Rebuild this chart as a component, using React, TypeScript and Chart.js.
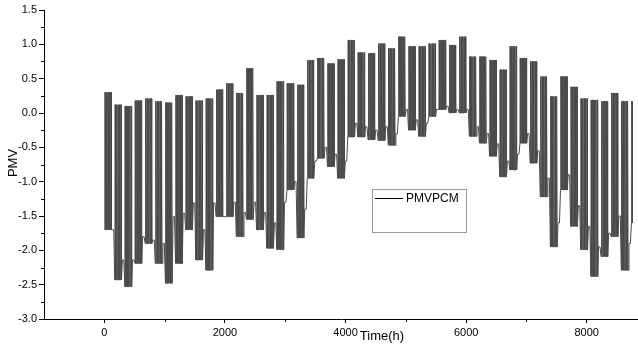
import { useEffect, useRef } from "react";
import { Chart, registerables } from "chart.js";
Chart.register(...registerables);

// Weekly envelope of the hourly PMV series (week 0 starts at hour 0)
const weekHigh = [
  0.3, 0.12, 0.1, 0.18, 0.21, 0.17, 0.15, 0.26, 0.24, 0.18,
  0.21, 0.34, 0.43, 0.29, 0.65, 0.26, 0.26, 0.46, 0.43, 0.41,
  0.77, 0.8, 0.72, 0.78, 1.06, 0.88, 0.87, 1.01, 0.94, 1.11,
  0.97, 0.97, 1.01, 1.06, 0.99, 1.11, 0.82, 0.82, 0.77, 0.63,
  0.97, 0.8, 0.75, 0.53, 0.24, 0.53, 0.38, 0.21, 0.19, 0.17,
  0.29, 0.17, 0.17,
];
// nightly minimum on working days
const weekLow = [
  -1.7, -2.43, -2.53, -2.19, -1.9, -2.19, -2.48, -2.19, -1.7, -2.14,
  -2.29, -1.51, -1.51, -1.8, -1.55, -1.7, -1.97, -1.99, -1.12, -1.82,
  -0.95, -0.66, -0.78, -0.95, -0.35, -0.35, -0.39, -0.4, -0.47, -0.05,
  -0.25, -0.34, -0.05, 0.05, 0.0, 0.0, -0.34, -0.44, -0.63, -0.93,
  -0.83, -0.44, -0.73, -1.22, -1.95, -1.12, -1.65, -1.99, -2.38, -2.09,
  -1.8, -2.29, -1.6,
];
// weekend level (bottom of the white gaps)
const weekendLow = [
  -1.7, -2.14, -2.14, -1.8, -1.85, -1.9, -1.51, -1.46, -1.31, -1.7,
  -1.31, -1.51, -1.3, -1.45, -1.3, -1.45, -1.6, -1.3, -1.0, -1.4,
  -0.7, -0.5, -0.6, -0.7, -0.15, -0.2, -0.25, -0.2, -0.3, 0.05,
  -0.1, -0.15, 0.05, 0.1, 0.05, 0.05, -0.2, -0.3, -0.45, -0.7,
  -0.6, -0.3, -0.55, -0.95, -1.6, -0.9, -1.35, -1.65, -1.95, -1.75,
  -1.5, -1.9, -1.6,
];
const hoursInYear = 8760;
const seriesLabel = "PMVPCM";
const xMajorTicks = [0, 2000, 4000, 6000, 8000];
const xMinorTicks = [1000, 3000, 5000, 7000];
const yMinorTicks = [-2.75, -2.25, -1.75, -1.25, -0.75, -0.25, 0.25, 0.75, 1.25];
const xTitle = "Time(h)";
const yTitle = "PMV";

function buildPoints() {
  const pts: { x: number; y: number }[] = [];
  for (let w = 0; w < weekHigh.length; w++) {
    for (let d = 0; d < 7; d++) {
      const h = w * 168 + d * 24;
      if (h >= hoursInYear) break;
      if (d < 5) {
        pts.push({ x: h + 5, y: weekLow[w] });
        pts.push({ x: h + 9, y: weekHigh[w] });
        pts.push({ x: h + 17, y: weekHigh[w] });
        pts.push({ x: h + 21, y: weekLow[w] });
      } else {
        pts.push({ x: h + 12, y: weekendLow[w] });
      }
    }
  }
  return pts;
}

const FONT = "'Liberation Sans', Arial, sans-serif";

const decorPlugin = {
  id: "decor",
  afterDraw(chart: any) {
    const ctx = chart.ctx;
    const xs = chart.scales.x;
    const ys = chart.scales.y;
    const area = chart.chartArea;
    ctx.save();
    ctx.strokeStyle = "#000";
    ctx.lineWidth = 1;
    ctx.beginPath();
    xMinorTicks.forEach((v) => {
      const px = Math.round(xs.getPixelForValue(v)) + 0.5;
      ctx.moveTo(px, area.bottom);
      ctx.lineTo(px, area.bottom + 3);
    });
    yMinorTicks.forEach((v) => {
      const py = Math.round(ys.getPixelForValue(v)) + 0.5;
      ctx.moveTo(area.left, py);
      ctx.lineTo(area.left - 3, py);
    });
    ctx.stroke();

    // axis titles
    ctx.fillStyle = "#000";
    ctx.font = `13px ${FONT}`;
    ctx.textAlign = "center";
    ctx.textBaseline = "middle";
    ctx.fillText(xTitle, 382, 336);
    ctx.save();
    ctx.translate(13, 163);
    ctx.rotate(-Math.PI / 2);
    ctx.fillText(yTitle, 0, 0);
    ctx.restore();

    // legend box
    ctx.strokeStyle = "#9a9a9a";
    ctx.strokeRect(372.5, 189.5, 94, 43);
    ctx.strokeStyle = "#000";
    ctx.beginPath();
    ctx.moveTo(375, 198.5);
    ctx.lineTo(403, 198.5);
    ctx.stroke();
    ctx.font = `12px ${FONT}`;
    ctx.textAlign = "left";
    ctx.fillText(chart.data.datasets[0].label, 406, 198.5);
    ctx.restore();
  },
};

export default function App() {
  const ref = useRef<HTMLCanvasElement>(null);
  useEffect(() => {
    const chart = new Chart(ref.current as HTMLCanvasElement, {
      type: "line",
      data: {
        datasets: [
          {
            label: seriesLabel,
            data: buildPoints(),
            borderColor: "#4a4a4a",
            borderWidth: 1,
            pointRadius: 0,
            tension: 0,
            fill: false,
          },
        ],
      },
      options: {
        animation: false,
        responsive: false,
        devicePixelRatio: 1,
        parsing: false,
        layout: { padding: { top: 10, left: 0, right: 0, bottom: 0 } },
        plugins: { legend: { display: false }, tooltip: { enabled: false } },
        scales: {
          x: {
            type: "linear",
            min: -1000,
            max: 8850,
            afterBuildTicks: (s: any) => {
              s.ticks = xMajorTicks.map((v) => ({ value: v }));
            },
            afterFit: (s: any) => {
              s.height = 26;
            },
            grid: { drawOnChartArea: false, drawTicks: true, tickLength: 4, tickColor: "#000" },
            border: { display: true, color: "#000", width: 1 },
            ticks: {
              padding: 3,
              color: "#000",
              font: { family: FONT, size: 11 },
              maxRotation: 0,
              autoSkip: false,
              callback: (v: any) => String(v),
            },
          },
          y: {
            type: "linear",
            min: -3,
            max: 1.5,
            afterFit: (s: any) => {
              s.width = 44;
            },
            grid: { drawOnChartArea: false, drawTicks: true, tickLength: 5, tickColor: "#000" },
            border: { display: true, color: "#000", width: 1 },
            ticks: {
              stepSize: 0.5,
              padding: 2,
              color: "#000",
              font: { family: FONT, size: 11 },
              callback: (v: any) => Number(v).toFixed(1),
            },
          },
        },
      },
      plugins: [decorPlugin],
    } as any);
    return () => chart.destroy();
  }, []);
  return (
    <div style={{ position: "fixed", left: 0, top: 0, width: 638, height: 345, background: "#fff" }}>
      <canvas ref={ref} width={638} height={345} />
    </div>
  );
}
